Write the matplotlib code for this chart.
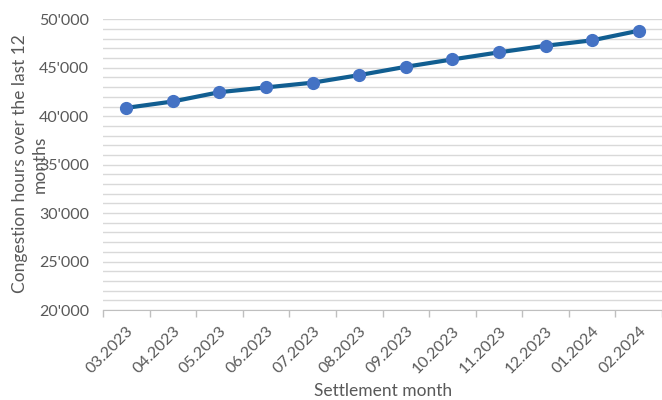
import matplotlib.pyplot as plt
import numpy as np
from matplotlib.ticker import FuncFormatter, MultipleLocator

months = ["03.2023", "04.2023", "05.2023", "06.2023", "07.2023", "08.2023",
          "09.2023", "10.2023", "11.2023", "12.2023", "01.2024", "02.2024"]
hours = [40860, 41520, 42480, 42970, 43460, 44240,
         45100, 45860, 46590, 47270, 47830, 48820]

plt.rcParams["font.family"] = ["Lato", "DejaVu Sans"]
grey = "#595959"

fig = plt.figure(figsize=(6.62, 4.0), dpi=100)
ax = fig.add_axes([103 / 662, 1 - 310 / 400, 1 - 103 / 662, (310 - 19.3) / 400])

x = np.arange(len(months))
ax.plot(x, hours, color="#115E91", lw=3.0, marker="o", ms=8.5,
        markerfacecolor="#4472C4", markeredgecolor="#4472C4", zorder=3)

ax.set_xlim(-0.5, len(months) - 0.5)
ax.set_ylim(20000, 50000)

ax.yaxis.set_major_locator(MultipleLocator(5000))
ax.yaxis.set_minor_locator(MultipleLocator(1000))
ax.yaxis.set_major_formatter(FuncFormatter(lambda v, p: f"{int(v):,}".replace(",", "'")))
ax.grid(axis="y", which="both", color="#D9D9D9", lw=1.0, zorder=0)
ax.set_axisbelow(True)

ax.set_xticks(x)
ax.set_xticklabels(months, rotation=45, ha="right", rotation_mode="anchor")
ax.set_xticks(np.arange(-0.5, len(months), 1), minor=True)
ax.tick_params(axis="x", which="major", length=0, pad=10, labelsize=11.5, labelcolor=grey)
ax.tick_params(axis="x", which="minor", length=5, color="#BFBFBF", width=1)
ax.tick_params(axis="y", which="both", length=0, pad=10, labelsize=11.5, labelcolor=grey)

for s in ["top", "right", "left"]:
    ax.spines[s].set_visible(False)
ax.spines["bottom"].set_color("#BFBFBF")

# the wrapped axis title overlaps the tick labels, as in the original
fig.text(30 / 662, 1 - 164 / 400, "Congestion hours over the last 12\nmonths",
         rotation=90, ha="center", va="center", multialignment="center",
         fontsize=12.5, color=grey, linespacing=1.25)
fig.text(383 / 662, 1 - 391 / 400, "Settlement month", ha="center", va="center",
         fontsize=12.5, color=grey)

fig.savefig("out.png", dpi=100)
